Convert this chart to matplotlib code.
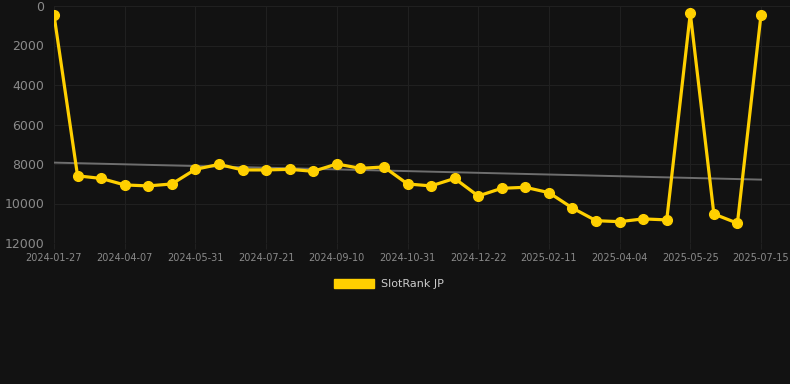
import numpy as np
import matplotlib
matplotlib.use("Agg")
import matplotlib.pyplot as plt
from matplotlib.patches import Patch

# every 3rd point carries a date label
tick_labels = ["2024-01-27", "2024-04-07", "2024-05-31", "2024-07-21", "2024-09-10",
               "2024-10-31", "2024-12-22", "2025-02-11", "2025-04-04", "2025-05-25",
               "2025-07-15"]
rank = [450, 8600, 8730, 9060, 9110, 9010, 8270, 8020, 8300, 8300,
        8270, 8370, 8000, 8220, 8150, 9010, 9110, 8730, 9620, 9230,
        9180, 9450, 10230, 10870, 10920, 10780, 10830, 370, 10530, 11000,
        450]
series_name = "SlotRank JP"

bg = "#121212"
yellow = "#FFD000"

x = np.arange(len(rank))
slope, icept = np.polyfit(x, rank, 1)

fig = plt.figure(figsize=(7.9, 3.84), dpi=100, facecolor=bg)
ax = fig.add_axes([54 / 790, 1 - 243 / 384, 1 - 54 / 790, 237 / 384])
ax.set_facecolor(bg)

ax.plot(x, slope * x + icept, color="#6e6e6e", lw=1.4, zorder=2)
ax.plot(x, rank, color=yellow, lw=2.3, marker="o", ms=7, zorder=3)

ax.set_ylim(12000, 0)
ax.set_yticks(range(0, 12001, 2000))
ax.set_xlim(0, 30 * 736 / 707)
ax.set_xticks(x[::3])
ax.set_xticklabels(tick_labels)

ax.grid(True, color="#202020", lw=0.8)
for s in ax.spines.values():
    s.set_visible(False)
ax.tick_params(axis="y", length=0, pad=7, labelsize=9, labelcolor="#8a8a8a")
ax.tick_params(axis="x", length=4, color="#202020", pad=3, labelsize=7, labelcolor="#8a8a8a")

fig.legend(handles=[Patch(color=yellow)], labels=[series_name], loc="center",
           bbox_to_anchor=(0.5 - 6 / 790, 1 - 284 / 384), frameon=False, fontsize=8,
           labelcolor="#cccccc", handlelength=3.6, handleheight=0.9, handletextpad=0.6)

fig.savefig("out.png", dpi=100, facecolor=bg)
